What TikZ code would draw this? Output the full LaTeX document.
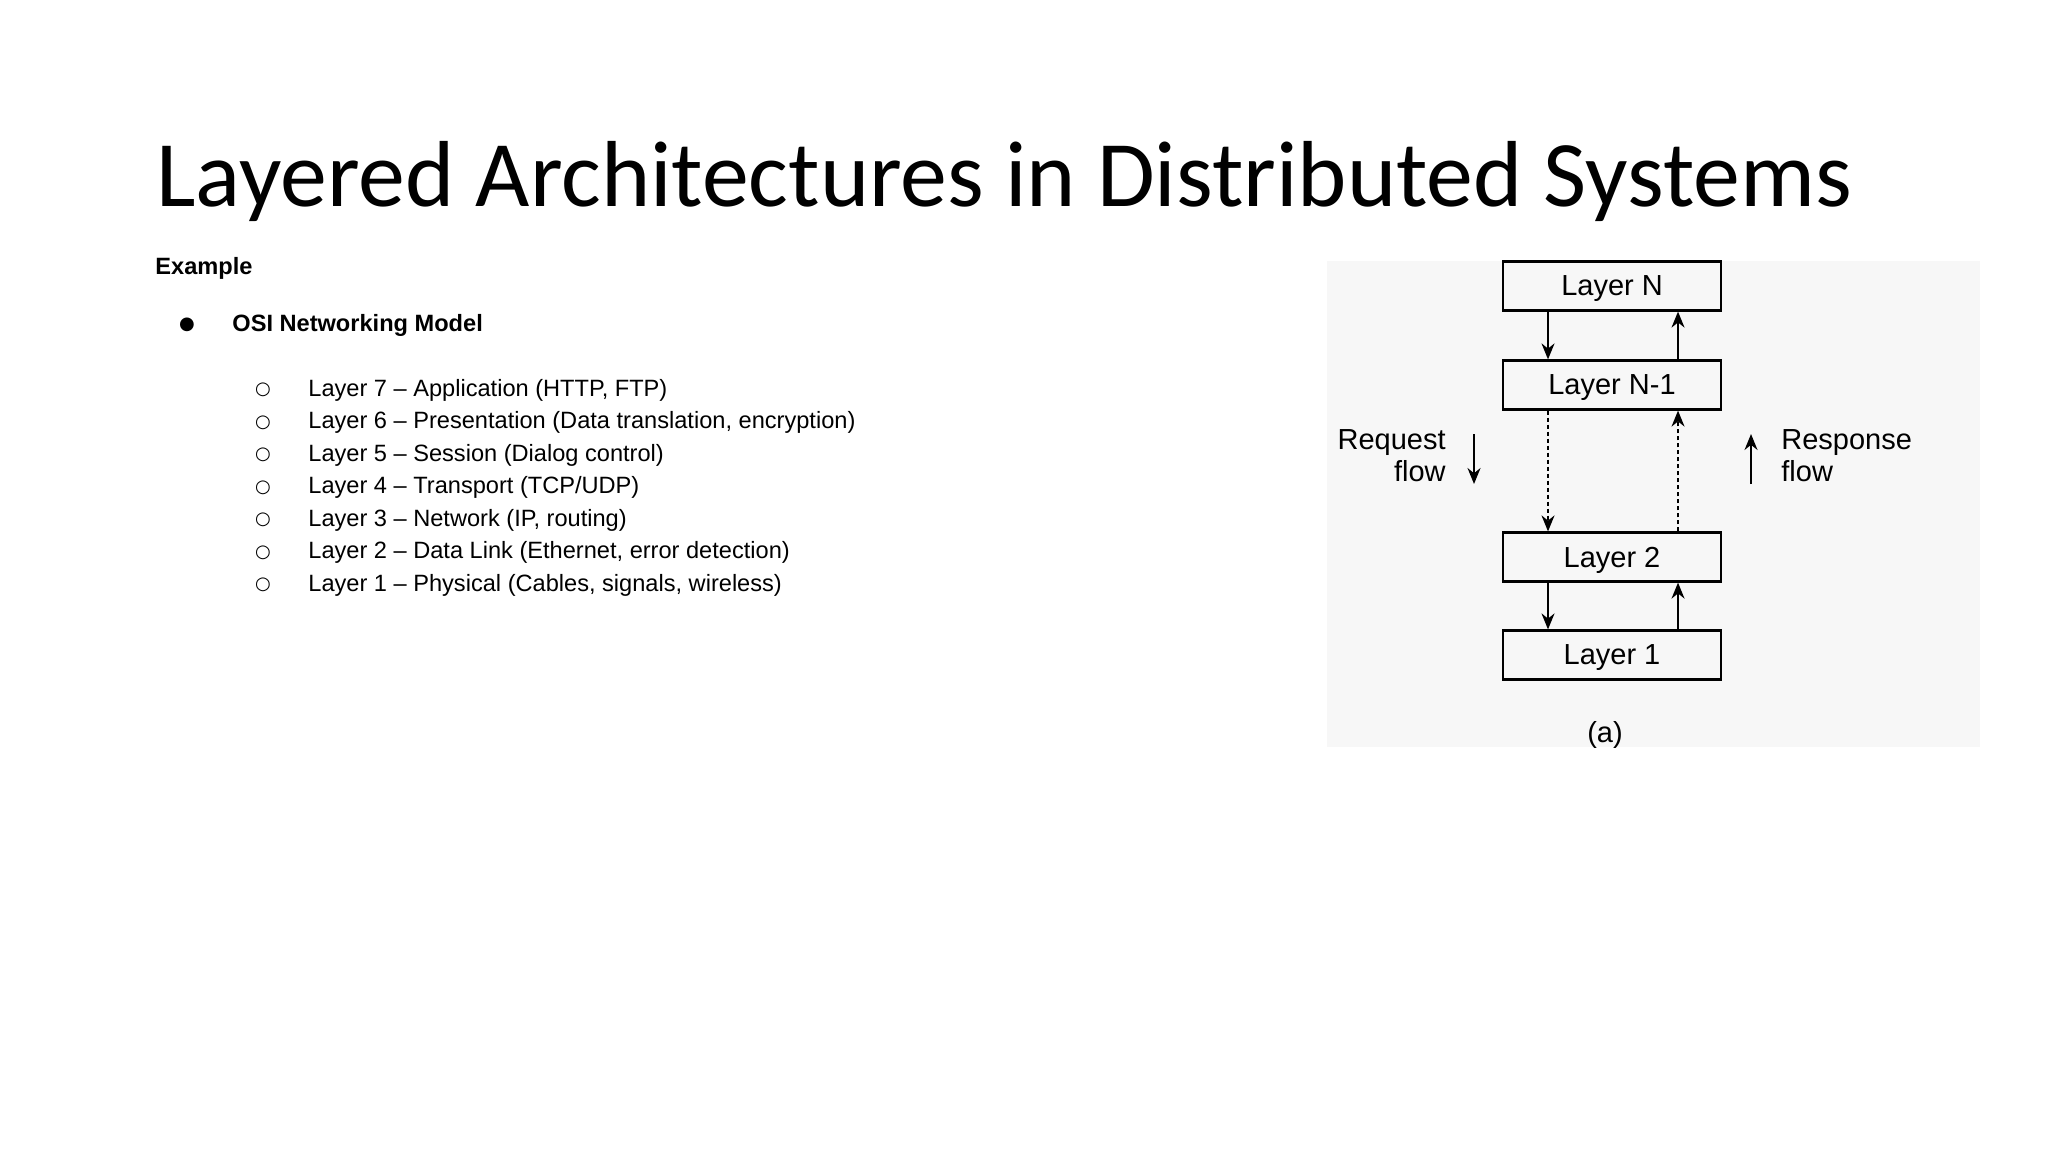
\documentclass[tikz,border=0pt]{standalone}
\usepackage{fontspec}
\setmainfont{Liberation Sans}
\newfontfamily\titlefont{Carlito}
\newfontfamily\symfont{DejaVu Sans}
\usetikzlibrary{arrows.meta}
\begin{document}
\begin{tikzpicture}[x=0.5pt,y=-0.5pt,
  layerbox/.style={draw,line width=1.1pt,minimum width=109pt,minimum height=24.5pt,inner sep=0pt,text depth=0pt,font=\fontsize{14.5}{16}\selectfont},
  flow/.style={line width=0.9pt,-{Stealth[length=8pt,width=6.5pt]}},
  item/.style={anchor=west,font=\fontsize{11.8}{14}\selectfont,inner sep=0pt},
  sym/.style={anchor=center,font=\symfont\fontsize{9}{11}\selectfont,inner sep=0pt}]
\useasboundingbox (0,0) rectangle (2048,1152);
\fill[white] (0,0) rectangle (2048,1152);
\node[anchor=base west,inner sep=0pt,font=\titlefont\fontsize{46.9}{56}\selectfont] (title) at (156,206) {Layered Architectures in Distributed Systems};
\node[item,font=\bfseries\fontsize{11.8}{14}\selectfont] (ex) at (155,268) {Example};
\node[sym] (b0) at (187,325) {●};
\node[item,font=\bfseries\fontsize{11.8}{14}\selectfont] (osi) at (232,325) {OSI Networking Model};
\foreach \t [count=\i from 0] in {{Layer 7 – Application (HTTP, FTP)},{Layer 6 – Presentation (Data translation, encryption)},{Layer 5 – Session (Dialog control)},{Layer 4 – Transport (TCP/UDP)},{Layer 3 – Network (IP, routing)},{Layer 2 – Data Link (Ethernet, error detection)},{Layer 1 – Physical (Cables, signals, wireless)}}{
  \node[sym] (s\i) at (263,390+32.5*\i) {○};
  \node[item] (t\i) at (308,390+32.5*\i) {\t};
}
% diagram
\fill[black!3] (1327,261) rectangle (1980,747);
\node[layerbox] (LN) at (1612,286) {Layer N};
\node[layerbox] (LN1) at (1612,385) {Layer N-1};
\node[layerbox] (L2) at (1612,557) {Layer 2};
\node[layerbox] (L1) at (1612,655) {Layer 1};
\draw[flow] (LN.south-|1548,0) -- (LN1.north-|1548,0);
\draw[flow] (LN1.north-|1678,0) -- (LN.south-|1678,0);
\draw[flow,dash pattern=on 2pt off 1.5pt] (LN1.south-|1548,0) -- (L2.north-|1548,0);
\draw[flow,dash pattern=on 2pt off 1.5pt] (L2.north-|1678,0) -- (LN1.south-|1678,0);
\draw[flow] (L2.south-|1548,0) -- (L1.north-|1548,0);
\draw[flow] (L1.north-|1678,0) -- (L2.south-|1678,0);
\node[anchor=east,align=right,inner sep=0pt,font=\fontsize{14.5}{16}\selectfont] (req) at (1446,456) {Request\\flow};
\coordinate (ra) at (1474,434); \coordinate (rb) at (1474,484);
\draw[flow] (ra) -- (rb);
\node[anchor=west,align=left,inner sep=0pt,font=\fontsize{14.5}{16}\selectfont] (resp) at (1781,456) {Response\\flow};
\coordinate (sa) at (1751,484); \coordinate (sb) at (1751,434);
\draw[flow] (sa) -- (sb);
\node[font=\fontsize{14.5}{16}\selectfont] (cap) at (1605,735) {(a)};
\end{tikzpicture}
\end{document}
